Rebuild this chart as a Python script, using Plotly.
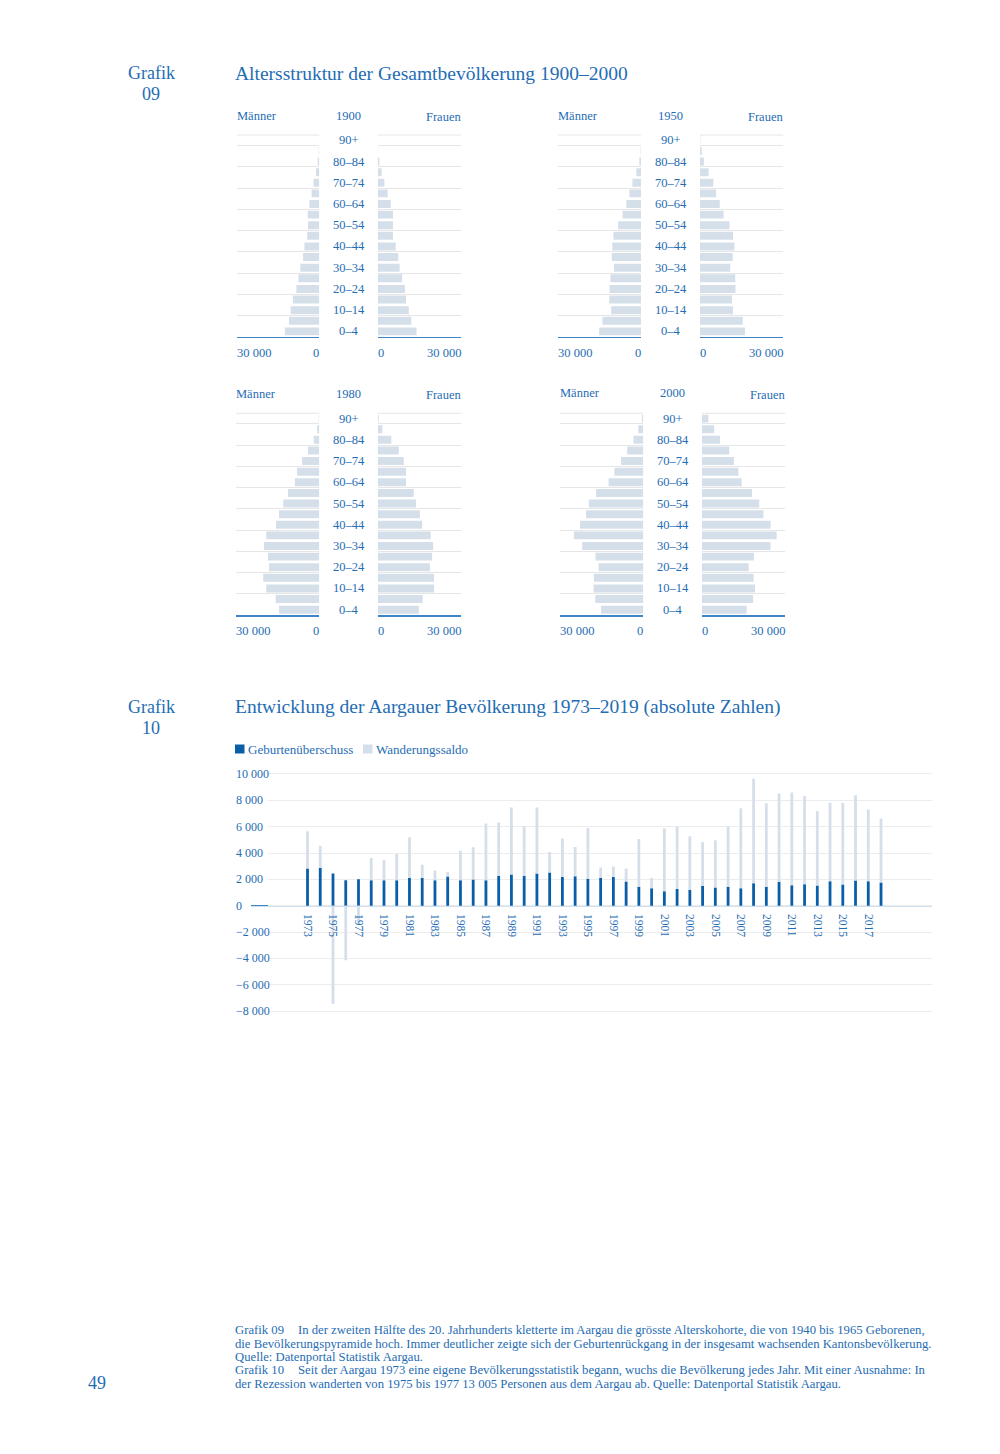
import plotly.graph_objects as go

# page geometry: the browser adds an 8px body margin, so the figure is 16px smaller
OFF = 8
W, H = 1000 - 2 * OFF, 1454 - 2 * OFF
def fx(p): return (p - OFF) / W
def fy(p): return 1 - (p - OFF) / H

TXT = "#1f6db4"
DARK = "#0a5ea8"
LIGHT = "#d5dfea"
GRID = "#e6e6e6"
AXL = "#3d85c6"
FONT = "Liberation Serif"

# ---------------- Grafik 09 data (age groups bottom -> top) ----------------
ages = ["0–4", "5–9", "10–14", "15–19", "20–24", "25–29", "30–34", "35–39",
        "40–44", "45–49", "50–54", "55–59", "60–64", "65–69", "70–74",
        "75–79", "80–84", "85–89", "90+"]

m1900 = [12500, 11000, 10400, 9600, 8300, 7600, 6900, 5900, 5400, 4400, 4100, 4200, 3600, 2800, 2100, 1200, 600, 200, 50]
f1900 = [14000, 12100, 11200, 10200, 9800, 8800, 7900, 7400, 6500, 5500, 5500, 5500, 4700, 3600, 2400, 1400, 600, 150, 30]
m1950 = [15200, 14000, 10800, 11500, 11400, 11100, 9800, 10600, 10400, 10000, 8300, 6700, 5300, 4200, 3100, 1700, 600, 150, 30]
f1950 = [16200, 15400, 11900, 11500, 12800, 12700, 10900, 11800, 12400, 11900, 10600, 8500, 7100, 5800, 4800, 3100, 1400, 600, 100]
m1980 = [14500, 15700, 19100, 20200, 18100, 18500, 19900, 19100, 15600, 14500, 13000, 11300, 8800, 8000, 6200, 4100, 2000, 800, 200]
f1980 = [14800, 16200, 20300, 20300, 18800, 19600, 20000, 19100, 16000, 15200, 13800, 13000, 10200, 10200, 9400, 7600, 4900, 1700, 400]
m2000 = [15200, 17300, 17900, 17800, 16100, 17200, 22000, 25000, 22800, 20600, 19600, 17000, 12500, 10400, 8000, 5800, 3500, 1800, 500]
f2000 = [16100, 18400, 19100, 18600, 16800, 18700, 24700, 26900, 24700, 22100, 20600, 18000, 14300, 13100, 11500, 9800, 6500, 4400, 2300]

pyr_max = 30000
pyr_tick_text = ["30 000", "0"]

# ---------------- Grafik 10 data ----------------
years = list(range(1973, 2019))
geburten = [2830, 2880, 2450, 1940, 2010, 1940, 1940, 1940, 2110, 2110, 1940, 2220, 1940, 1990, 1940, 2270,
            2370, 2270, 2450, 2520, 2170, 2240, 2040,
            2110, 2170, 1830, 1430, 1320, 1100, 1270, 1200, 1500, 1380, 1430, 1320, 1710, 1430, 1810,
            1550, 1630, 1530, 1860, 1600, 1910, 1860, 1760]
wanderung = [2830, 1680, -7450, -4150, -1400, 1680, 1525, 2010, 3090, 1000, 735, 330, 2240, 2440, 4300, 4050,
             5090, 3770, 5010, 1560, 2930, 2220, 3850,
             790, 810, 1000, 3640, 790, 4760, 4720, 4070, 3320, 3590, 4560, 6070, 7920, 6340, 6700,
             7040, 6700, 5650, 5960, 6200, 6470, 5450, 4860]
series_names = ["Geburtenüberschuss", "Wanderungssaldo"]
y_ticks = [10000, 8000, 6000, 4000, 2000, 0, -2000, -4000, -6000, -8000]
year_ticks = list(range(1973, 2018, 2))

# ---------------- layout geometry (page pixels) ----------------
pyramids = [
    dict(year="1900", m=m1900, f=f1900, mx=(236.7, 319.3), fxp=(377.7, 461.0), yp=(135.0, 336.7), head=115.5, center=348.5, tick=353.0),
    dict(year="1950", m=m1950, f=f1950, mx=(558.3, 641.0), fxp=(700.0, 783.3), yp=(135.0, 336.7), head=115.5, center=670.5, tick=353.0),
    dict(year="1980", m=m1980, f=f1980, mx=(236.0, 319.3), fxp=(377.7, 461.0), yp=(413.3, 615.0), head=393.5, center=348.5, tick=630.5),
    dict(year="2000", m=m2000, f=f2000, mx=(560.0, 643.3), fxp=(702.0, 785.3), yp=(413.3, 615.0), head=393.0, center=672.5, tick=630.5),
]

fig = go.Figure()
layout = dict(
    width=W, height=H, margin=dict(l=0, r=0, t=0, b=0),
    paper_bgcolor="white", plot_bgcolor="rgba(0,0,0,0)",
    showlegend=False, barmode="relative",
    font=dict(family=FONT, color=TXT, size=12),
)
ann = []
shapes = []

def tf(size):
    return dict(family=FONT, color=TXT, size=size)

def A(**kw):
    d = dict(showarrow=False, borderpad=0, borderwidth=0)
    d.update(kw)
    ann.append(d)

PF = 12.5
for i, p in enumerate(pyramids):
    mi, fi = 2 * i + 1, 2 * i + 2
    for idx, vals, xp, rng in ((mi, p["m"], p["mx"], [pyr_max, 0]), (fi, p["f"], p["fxp"], [0, pyr_max])):
        xs = "" if idx == 1 else str(idx)
        fig.add_trace(go.Bar(x=vals, y=ages, orientation="h", width=0.75,
                             marker=dict(color=LIGHT, line=dict(width=0)),
                             xaxis="x" + xs, yaxis="y" + xs, hoverinfo="skip"))
        layout["xaxis" + xs] = dict(domain=[fx(xp[0]), fx(xp[1])], range=rng, anchor="y" + xs,
                                    showgrid=False, zeroline=False, showticklabels=False, ticks="",
                                    showline=True, linecolor=AXL, linewidth=1.6, fixedrange=True)
        layout["yaxis" + xs] = dict(domain=[fy(p["yp"][1]), fy(p["yp"][0])], anchor="x" + xs,
                                    type="category", categoryorder="array", categoryarray=ages,
                                    range=[-0.5, len(ages) - 0.5], tickson="boundaries",
                                    showgrid=True, gridcolor=GRID, gridwidth=1, ticks="",
                                    showticklabels=False, zeroline=False, showline=False, fixedrange=True)
        # top boundary grid line of the category axis
        shapes.append(dict(type="line", xref="x" + xs + " domain", yref="y" + xs + " domain",
                           x0=0, x1=1, y0=1, y1=1, line=dict(color=GRID, width=1), layer="below"))
    mxs = "" if mi == 1 else str(mi)
    fxs = str(fi)
    # headings
    A(text="Männer", x=fx(p["mx"][0]), y=fy(p["head"]), xref="paper", yref="paper",
      xanchor="left", yanchor="middle", font=tf(PF))
    A(text=p["year"], x=fx(p["center"]), y=fy(p["head"]), xref="paper", yref="paper",
      xanchor="center", yanchor="middle", font=tf(PF))
    A(text="Frauen", x=fx(p["fxp"][1]), y=fy(p["head"] + 1.5), xref="paper", yref="paper",
      xanchor="right", yanchor="middle", font=tf(PF))
    # tick labels
    A(text=pyr_tick_text[0], x=pyr_max, xref="x" + mxs, y=fy(p["tick"]), yref="paper",
      xanchor="left", yanchor="middle", font=tf(PF))
    A(text=pyr_tick_text[1], x=0, xref="x" + mxs, y=fy(p["tick"]), yref="paper",
      xanchor="right", yanchor="middle", font=tf(PF))
    A(text=pyr_tick_text[1], x=0, xref="x" + fxs, y=fy(p["tick"]), yref="paper",
      xanchor="left", yanchor="middle", font=tf(PF))
    A(text=pyr_tick_text[0], x=pyr_max, xref="x" + fxs, y=fy(p["tick"]), yref="paper",
      xanchor="right", yanchor="middle", font=tf(PF))
    # age labels
    for a in ages[::2]:
        A(text=a, x=fx(p["center"]), xref="paper", y=a, yref="y" + fxs,
          xanchor="center", yanchor="middle", font=tf(PF))

# ---------------- bar chart ----------------
bx = (268.0, 932.0)
by = (767.4, 1024.2)
yr = [-9000, 10500]
xr = [1969.9, 2022.0]

fig.add_trace(go.Bar(x=years, y=geburten, name=series_names[0], width=0.22,
                     marker=dict(color=DARK, line=dict(width=0)), xaxis="x9", yaxis="y9", hoverinfo="skip"))
fig.add_trace(go.Bar(x=years, y=wanderung, name=series_names[1], width=0.22,
                     marker=dict(color=LIGHT, line=dict(width=0)), xaxis="x9", yaxis="y9", hoverinfo="skip"))
fig.add_trace(go.Scatter(x=years, y=geburten, mode="none", xaxis="x10", yaxis="y9",
                         hoverinfo="skip", showlegend=False))

layout["xaxis9"] = dict(domain=[fx(bx[0]), fx(bx[1])], range=xr, anchor="y9", showgrid=False,
                        zeroline=False, showticklabels=False, ticks="", showline=False, fixedrange=True)
layout["yaxis9"] = dict(domain=[fy(by[1]), fy(by[0])], range=yr, anchor="x9", tickmode="array",
                        tickvals=y_ticks, showticklabels=False, ticks="", showgrid=True,
                        gridcolor="#ececec", gridwidth=1, zeroline=False, showline=False, fixedrange=True)
zero_px = by[0] + (yr[1] - 0) / (yr[1] - yr[0]) * (by[1] - by[0])
layout["xaxis10"] = dict(overlaying="x9", anchor="free", position=fy(zero_px), range=xr,
                         tickmode="array", tickvals=year_ticks, ticktext=[str(v) for v in year_ticks],
                         tickangle=90, ticks="outside", ticklen=5, tickcolor="rgba(0,0,0,0)",
                         showgrid=False, zeroline=False, showline=False,
                         tickfont=dict(family=FONT, color=TXT, size=11.5), fixedrange=True)

shapes.append(dict(type="line", xref="paper", yref="y9", x0=fx(251), x1=fx(bx[1]), y0=0, y1=0,
                   line=dict(color=AXL, width=1.2), layer="below"))

def fmt(v):
    s = f"{abs(v):,}".replace(",", " ")
    return ("−" + s) if v < 0 else s

for v in y_ticks:
    A(text=fmt(v), x=fx(236), xref="paper", y=v, yref="y9", xanchor="left",
      yanchor="middle", font=tf(12))

# legend (swatch + label)
for name, col, x0 in ((series_names[0], DARK, 235.0), (series_names[1], LIGHT, 363.0)):
    shapes.append(dict(type="rect", xref="paper", yref="paper", x0=fx(x0), x1=fx(x0 + 9.5),
                       y0=fy(753.5), y1=fy(744.5), fillcolor=col, line=dict(width=0)))
    A(text=name, x=fx(x0 + 12.5), y=fy(749), xref="paper", yref="paper",
      xanchor="left", yanchor="middle", font=tf(13))

# ---------------- titles & text ----------------
def add_text(t, x, y, size, anchor="left"):
    A(text=t, x=fx(x), y=fy(y), xref="paper", yref="paper", xanchor=anchor,
      yanchor="middle", font=tf(size))

add_text("Grafik", 151, 73, 18, "center")
add_text("09", 151, 94, 18, "center")
add_text("Altersstruktur der Gesamtbevölkerung 1900–2000", 235, 73, 19.5)
add_text("Grafik", 151, 707, 18, "center")
add_text("10", 151, 728, 18, "center")
add_text("Entwicklung der Aargauer Bevölkerung 1973–2019 (absolute Zahlen)", 235, 707, 19.5)

cap = 12.7
add_text("Grafik 09", 235, 1330, cap)
add_text("In der zweiten Hälfte des 20. Jahrhunderts kletterte im Aargau die grösste Alterskohorte, die von 1940 bis 1965 Geborenen,", 298, 1330, cap)
add_text("die Bevölkerungspyramide hoch. Immer deutlicher zeigte sich der Geburtenrückgang in der insgesamt wachsenden Kantonsbevölkerung.", 235, 1343.5, cap)
add_text("Quelle: Datenportal Statistik Aargau.", 235, 1357, cap)
add_text("Grafik 10", 235, 1370, cap)
add_text("Seit der Aargau 1973 eine eigene Bevölkerungsstatistik begann, wuchs die Bevölkerung jedes Jahr. Mit einer Ausnahme: In", 298, 1370, cap)
add_text("der Rezession wanderten von 1975 bis 1977 13 005 Personen aus dem Aargau ab. Quelle: Datenportal Statistik Aargau.", 235, 1383.5, cap)
add_text("49", 88, 1383, 18)

layout["annotations"] = ann
layout["shapes"] = shapes
fig.update_layout(**layout)
fig.write_html("out.html", config={"displayModeBar": False, "staticPlot": True})
